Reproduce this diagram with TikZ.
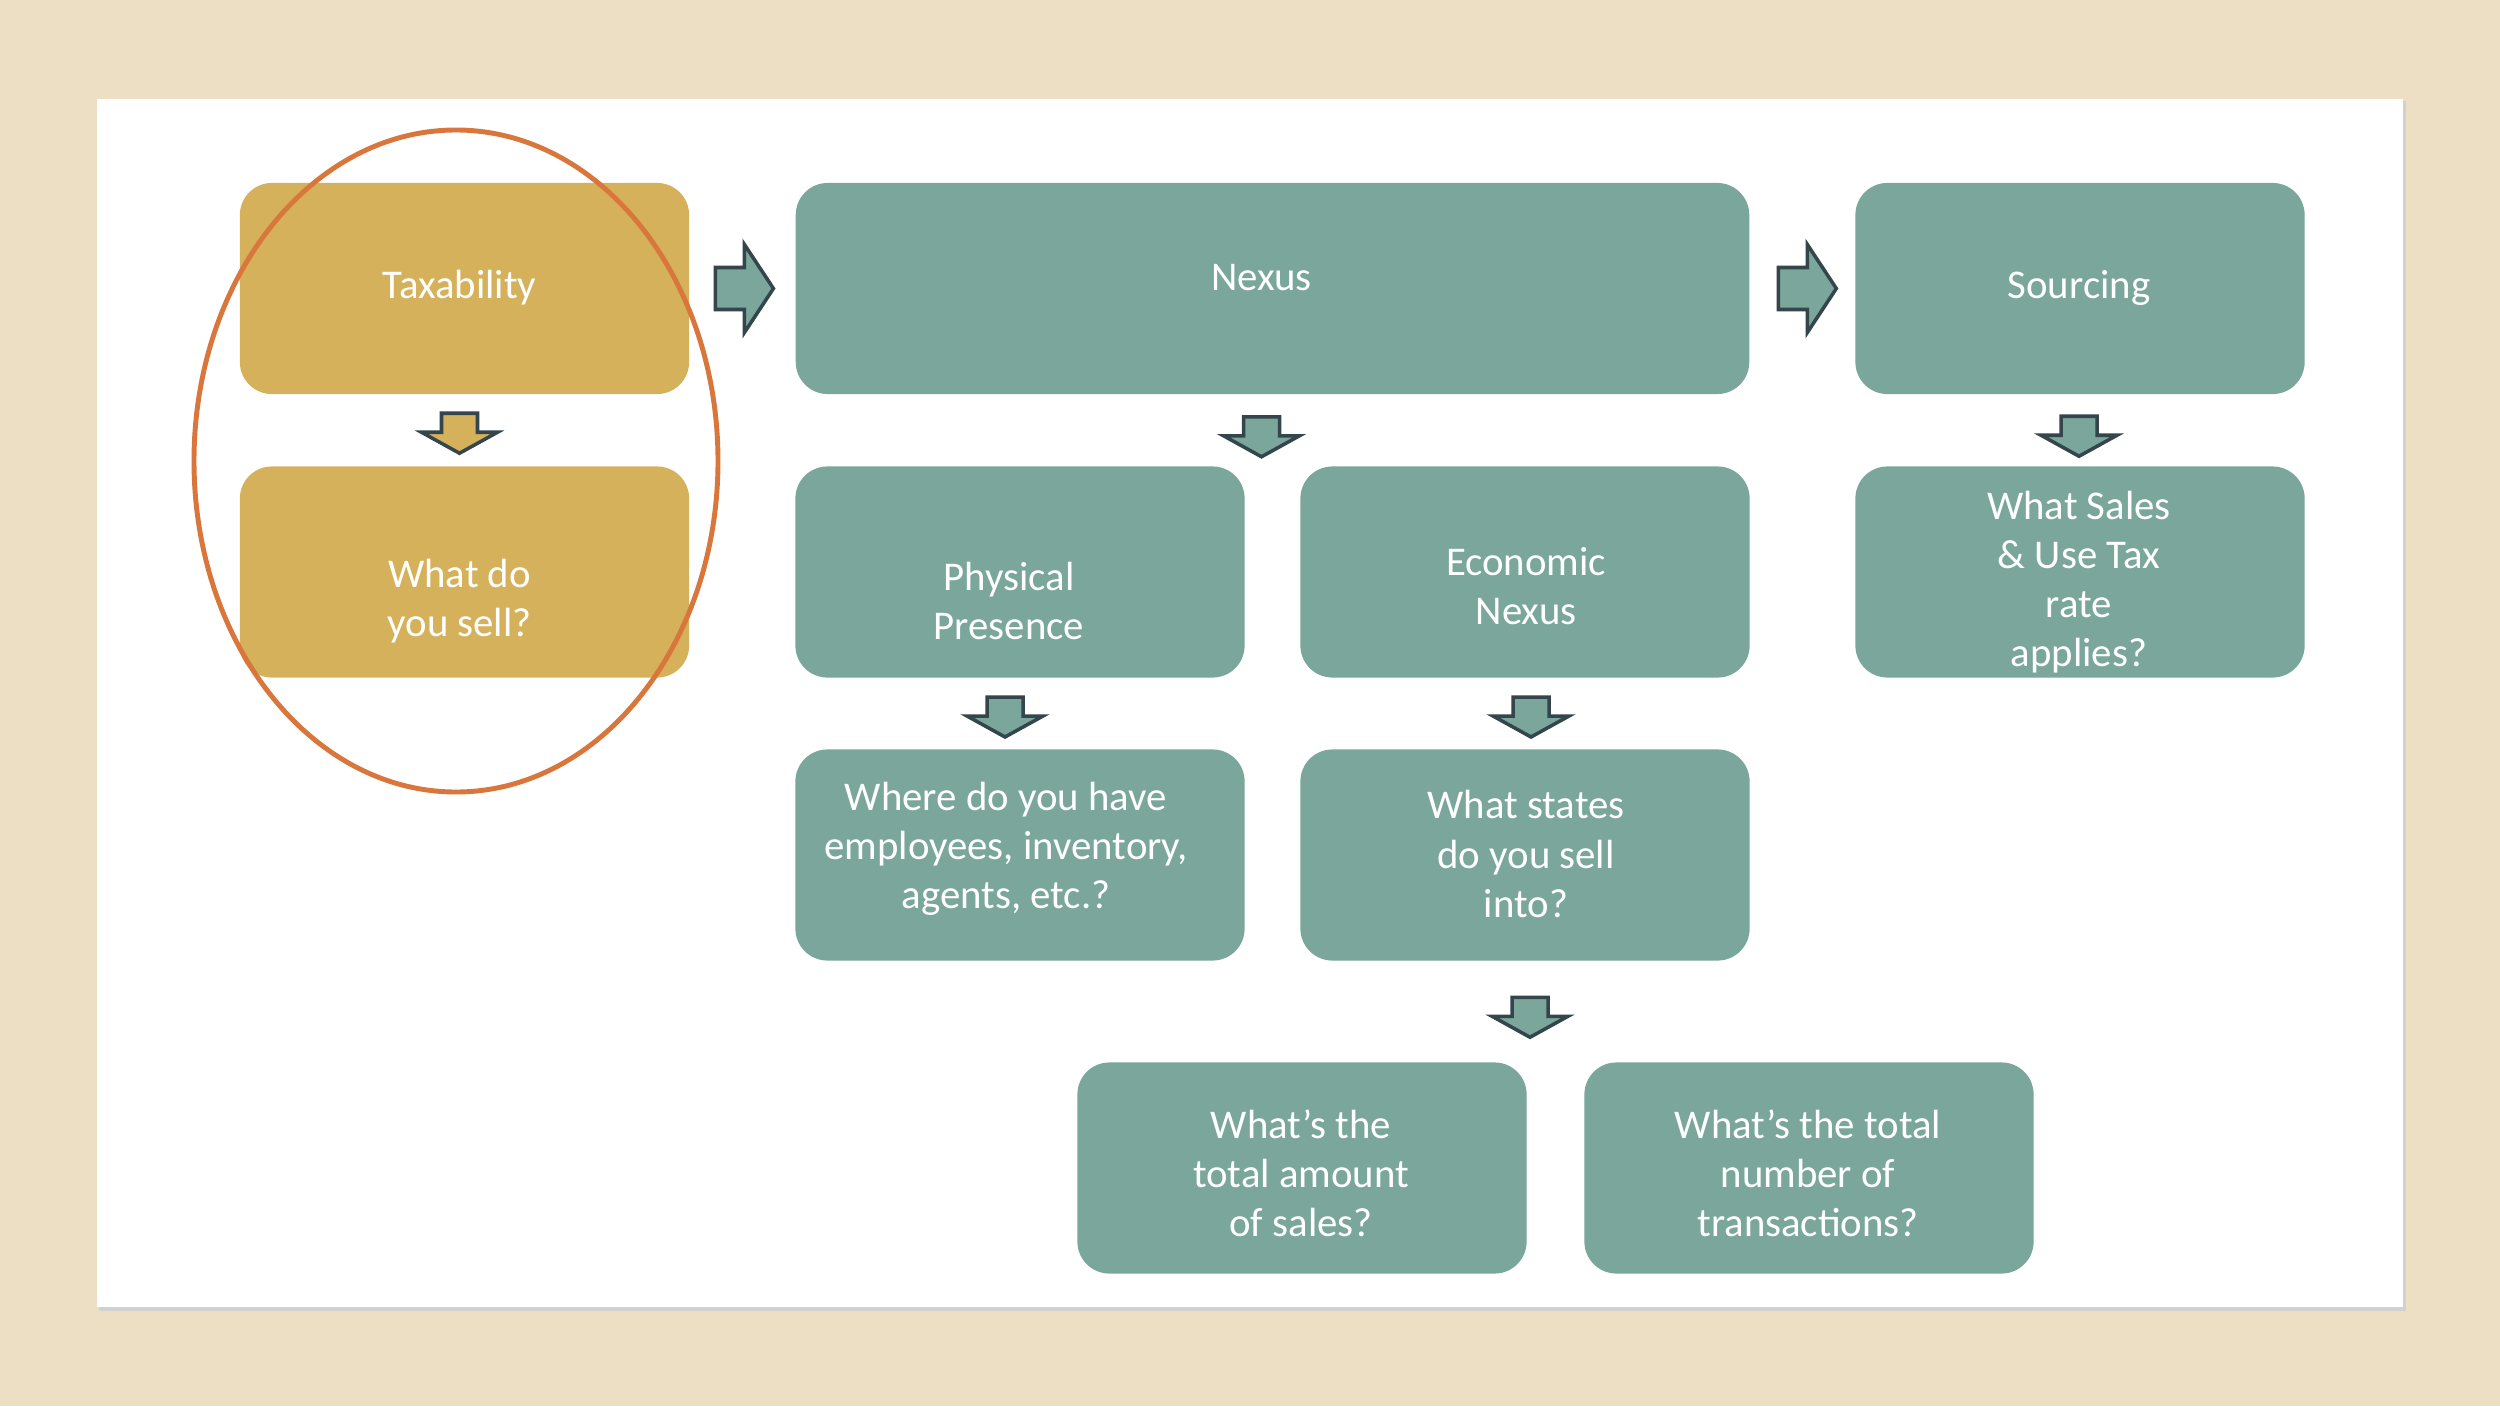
\documentclass[tikz,border=0pt]{standalone}
\usepackage{fontspec}
\setmainfont{Carlito}
\usetikzlibrary{calc}
\definecolor{bgbeige}{HTML}{EDDFC4}
\definecolor{teal}{HTML}{7AA69B}
\definecolor{gold}{HTML}{D6B15B}
\definecolor{arrline}{HTML}{34454B}
\definecolor{ring}{HTML}{D8763C}
\tikzset{
  box/.style={rectangle, rounded corners=0.32cm, minimum width=4.49cm, minimum height=2.11cm, inner sep=0pt, draw=none},
  tbox/.style={box, fill=teal},
  gbox/.style={box, fill=gold},
  lbl/.style={text=white, align=center, inner sep=0pt, font=\fontsize{11.6}{14.0}\selectfont},
  blockarrow/.style={draw=arrline, line width=1pt, line join=miter},
  pics/darr/.style={code={
    \path[blockarrow,pic actions] (-18,-20) -- (18,-20) -- (18,-1) -- (38,-1) -- (0,20) -- (-38,-1) -- (-18,-1) -- cycle;}},
  pics/rarr/.style={code={
    \path[blockarrow,pic actions] (-29,-21) -- (0,-21) -- (0,-44) -- (29,0) -- (0,44) -- (0,21) -- (-29,21) -- cycle;}},
}
\begin{document}
\begin{tikzpicture}[x=0.01cm,y=-0.01cm]
\useasboundingbox (0,0) rectangle (2500,1406);
\fill[bgbeige] (0,0) rectangle (2500,1406);
\fill[black!18] (99,101) rectangle (2406,1311);
\fill[white] (97,99) rectangle (2403,1307);

% boxes
\node[gbox] (tax) at (464.5,288.5) {};
\node[gbox] (sell) at (464.5,572) {};
\node[tbox, minimum width=9.53cm] (nexus) at (1272.5,288.5) {};
\node[tbox] (src) at (2080,288.5) {};
\node[tbox] (phys) at (1020,572) {};
\node[tbox] (econ) at (1525,572) {};
\node[tbox] (sales) at (2080,572) {};
\node[tbox] (where) at (1020,855) {};
\node[tbox] (states) at (1525,855) {};
\node[tbox] (amount) at (1302,1168) {};
\node[tbox] (number) at (1809,1168) {};

% labels
\node[lbl] (taxT) at ($(tax.center)+(-5,-1)$) {Taxability};
\node[lbl] (sellT) at ($(sell.center)+(-5,29)$) {What do\\you sell?};
\node[lbl] (nexusT) at ($(nexus.center)+(-11,-11)$) {Nexus};
\node[lbl] (srcT) at ($(src.center)+(-1,-1)$) {Sourcing};
\node[lbl] (physT) at ($(phys.center)+(-11,29)$) {Physical\\Presence};
\node[lbl] (econT) at ($(econ.center)+(1,14)$) {Economic\\Nexus};
\node[lbl] (salesT) at ($(sales.center)+(-1,10)$) {What Sales\\\&~Use Tax\\rate\\applies?};
\node[lbl] (whereT) at ($(where.center)+(-14,-6)$) {Where do you have\\employees, inventory,\\agents, etc.?};
\node[lbl] (statesT) at ($(states.center)+(1,-1)$) {What states\\do you sell\\into?};
\node[lbl] (amountT) at ($(amount.center)+(-1,5)$) {What’s the\\total amount\\of sales?};
\node[lbl] (numberT) at ($(number.center)+(-1,5)$) {What’s the total\\number of\\transactions?};

% block arrows
\pic[fill=teal] at ($(tax.east)!0.5!(nexus.west)+(2,0)$) {rarr};
\pic[fill=teal] at ($(nexus.east)!0.5!(src.west)+(5,0)$) {rarr};
\pic[fill=gold] at ($(tax.south)!0.5!(sell.north)+(-5,3)$) {darr};
\pic[fill=teal] at ($(nexus.south)+(-11,42)$) {darr};
\pic[fill=teal] at ($(src.south)!0.5!(sales.north)+(-1,6)$) {darr};
\pic[fill=teal] at ($(phys.south)!0.5!(where.north)+(-15,3.5)$) {darr};
\pic[fill=teal] at ($(econ.south)!0.5!(states.north)+(6,3.5)$) {darr};
\pic[fill=teal] at ($(states.south)+(5,56)$) {darr};

% highlight ring
\draw[ring, line width=1.4pt] (456,461) ellipse [x radius=262, y radius=331];
\end{tikzpicture}
\end{document}
